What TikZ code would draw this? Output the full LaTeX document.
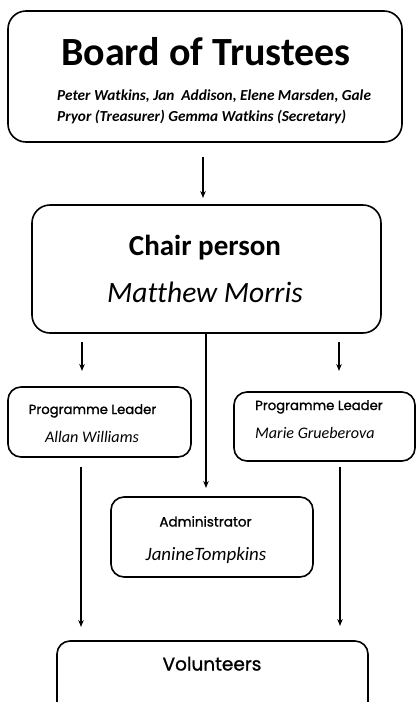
\documentclass[tikz,border=0pt]{standalone}
\usepackage{fontspec}
\setmainfont[Ligatures=NoCommon]{Carlito}
\newfontfamily\popfont[FakeBold=1.2]{Poppins}
\usetikzlibrary{arrows.meta}
\tikzset{
  box/.style={draw, line width=1.6pt, rounded corners=18pt, inner sep=0pt},
  smallbox/.style={draw, line width=1.6pt, rounded corners=13pt, inner sep=0pt},
  arr/.style={line width=1.3pt, -{Stealth[length=7pt,width=5.5pt]}},
  txt/.style={inner sep=0pt, anchor=base},
}
\begin{document}
\begin{tikzpicture}[x=1pt,y=-1pt]
\useasboundingbox (0,0) rectangle (417,702);
% boxes
\node[box, minimum width=394pt, minimum height=131pt] (board) at (205,76.5) {};
\node[box, minimum width=349pt, minimum height=128pt] (chair) at (206.5,269) {};
\node[smallbox, minimum width=183pt, minimum height=70pt] (pl1) at (99.5,422) {};
\node[smallbox, minimum width=181pt, minimum height=69pt] (pl2) at (324.5,426.5) {};
\node[smallbox, minimum width=202pt, minimum height=80pt] (admin) at (212,537) {};
\node[smallbox, minimum width=311pt, minimum height=90pt] (vol) at (212.5,686) {};
% texts
\node[txt] (t1) at (206,65) {\fontsize{40}{44}\selectfont\bfseries Board of Trustees};
\node[txt, anchor=base west] (t2) at (57,100) {\fontsize{15.3}{17}\selectfont\bfseries\itshape Peter Watkins, Jan\ \ Addison, Elene Marsden, Gale};
\node[txt, anchor=base west] (t3) at (57,121.5) {\fontsize{15.3}{17}\selectfont\bfseries\itshape Pryor (Treasurer) Gemma Watkins (Secretary)};
\node[txt] (t4) at (205,255) {\fontsize{29}{32}\selectfont\bfseries Chair person};
\node[txt] (t5) at (205,302.5) {\fontsize{29.5}{32}\selectfont\itshape Matthew Morris};
\node[txt] (t6) at (92.5,414) {\popfont\fontsize{13.2}{15}\selectfont Programme Leader};
\node[txt] (t7) at (92,442.5) {\fontsize{16.2}{18}\selectfont\itshape Allan Williams};
\node[txt, anchor=base west] (t8) at (255,410) {\popfont\fontsize{13.2}{15}\selectfont Programme Leader};
\node[txt, anchor=base west] (t9) at (255,438) {\fontsize{16.1}{18}\selectfont\itshape Marie Grueberova};
\node[txt] (t10) at (205.5,526.5) {\popfont\fontsize{13.5}{15}\selectfont Administrator};
\node[txt] (t11) at (206,560) {\fontsize{18.9}{21}\selectfont\itshape JanineTompkins};
\node[txt] (t12) at (212,670.5) {\popfont\fontsize{18.5}{21}\selectfont Volunteers};
% arrow endpoints
\coordinate (a1s) at (203,157);
\coordinate (a1e) at (203,198);
\coordinate (a2s) at (82,342);
\coordinate (a2e) at (82,371);
\coordinate (a3e) at (206,488);
\coordinate (a4s) at (339,342);
\coordinate (a4e) at (339,371);
\coordinate (a5s) at (81,467);
\coordinate (a5e) at (81,627);
\coordinate (a6s) at (340,467);
\coordinate (a6e) at (340,626);
\draw[arr] (a1s) -- (a1e);
\draw[arr] (a2s) -- (a2e);
\draw[arr] (chair.south -| a3e) -- (a3e);
\draw[arr] (a4s) -- (a4e);
\draw[arr] (a5s) -- (a5e);
\draw[arr] (a6s) -- (a6e);
\end{tikzpicture}
\end{document}
